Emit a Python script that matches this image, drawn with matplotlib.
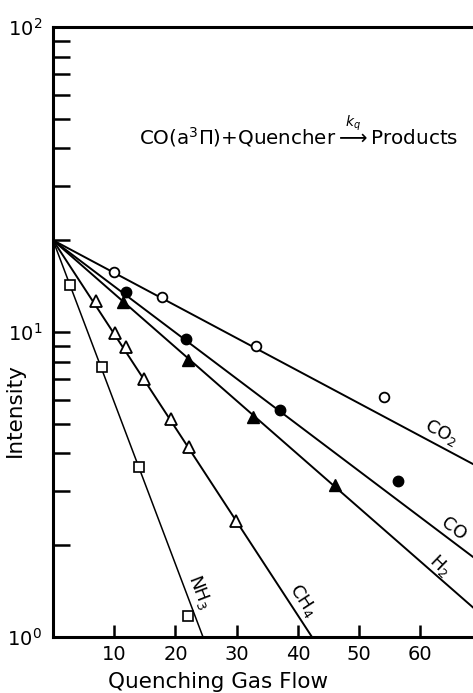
import matplotlib
matplotlib.use("Agg")
import matplotlib.pyplot as plt
from matplotlib.ticker import LogLocator, NullFormatter

# values
i0 = 20.0  # common start intensity at zero flow

co2_x = [9.97, 17.8, 33.2, 54.1]
co2_y = [15.7, 13.0, 9.0, 6.1]

co_x = [11.9, 21.8, 37.1, 56.3]
co_y = [13.5, 9.5, 5.55, 3.25]

h2_x = [11.4, 22.1, 32.7, 46.1]
h2_y = [12.5, 8.1, 5.27, 3.15]

ch4_x = [7.1, 10.1, 11.9, 14.9, 19.3, 22.2, 29.9]
ch4_y = [12.6, 9.9, 8.9, 7.0, 5.2, 4.2, 2.4]

nh3_x = [2.8, 7.96, 14.05, 22.1]
nh3_y = [14.3, 7.7, 3.6, 1.17]

# where each fitted line leaves the plot
line_end_x = {"CO2": 68.6, "CO": 68.6, "H2": 68.6, "CH4": 42.3, "NH3": 24.5}
line_end_y = {"CO2": 3.69, "CO": 1.83, "H2": 1.25, "CH4": 1.0, "NH3": 1.0}

xticks = [10, 20, 30, 40, 50, 60]

fig = plt.figure(figsize=(4.73, 6.93), dpi=100)
ax = fig.add_axes([53 / 473, 1 - 637 / 693, 1 - 53 / 473, (637 - 27) / 693])

ax.set_yscale("log")
ax.set_xlim(0, 68.6)
ax.set_ylim(1, 100)

# fitted lines
for key in ["CO2", "CO", "H2", "CH4"]:
    ax.plot([0, line_end_x[key]], [i0, line_end_y[key]], color="black", lw=1.4)
ax.plot([0, line_end_x["NH3"]], [i0, line_end_y["NH3"]], color="black", lw=1.1)

# data points
ax.plot(co2_x, co2_y, "o", ms=7, mfc="white", mec="black", mew=1.3)
ax.plot(co_x, co_y, "o", ms=7.5, mfc="black", mec="black")
ax.plot(h2_x, h2_y, "^", ms=8, mfc="black", mec="black")
ax.plot(ch4_x, ch4_y, "^", ms=8, mfc="white", mec="black", mew=1.3)
ax.plot(nh3_x, nh3_y, "s", ms=6.5, mfc="white", mec="black", mew=1.2)

# labels along the lines
lab = dict(fontsize=13, ha="center", va="center", rotation_mode="anchor")
ax.text(63.4, 4.67, "CO$_2$", rotation=-28, **lab)
ax.text(65.5, 2.26, "CO", rotation=-37, **lab)
ax.text(63.2, 1.72, "H$_2$", rotation=-44, **lab)
ax.text(40.8, 1.32, "CH$_4$", rotation=-57, **lab)
ax.text(24.0, 1.40, "NH$_3$", rotation=-69, **lab)

ax.text(0.205, 0.829,
        r"CO(a$^3\Pi$)+Quencher$\overset{k_q}{\longrightarrow}$Products",
        transform=ax.transAxes, fontsize=14.3, ha="left", va="center")

# axes styling
for s in ["left", "bottom", "top"]:
    ax.spines[s].set_linewidth(2.2)
ax.spines["right"].set_visible(False)

ax.set_xticks(xticks)
ax.set_xticklabels([str(t) for t in xticks])
ax.yaxis.set_major_locator(LogLocator(base=10))
ax.yaxis.set_minor_locator(LogLocator(base=10, subs=range(2, 10)))
ax.yaxis.set_minor_formatter(NullFormatter())
ax.tick_params(axis="x", direction="in", length=9, width=1.8, labelsize=14, pad=6)
ax.tick_params(axis="y", which="both", direction="in", length=12, width=1.8,
               labelsize=14, pad=8)
ax.tick_params(top=False, right=False)

ax.set_xlabel("Quenching Gas Flow", fontsize=15.5)
ax.set_ylabel("Intensity", fontsize=15.5)
ax.xaxis.set_label_coords(0.393, -0.058)
ax.yaxis.set_label_coords(-0.067, 0.372)

fig.savefig("out.png", dpi=100)
